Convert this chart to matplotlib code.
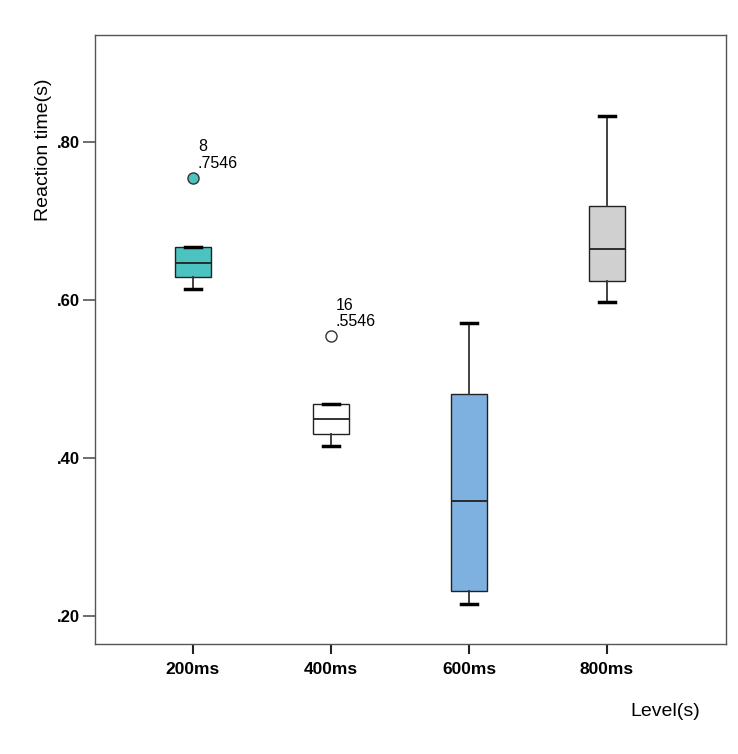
import numpy as np
import matplotlib.pyplot as plt
from matplotlib.ticker import FuncFormatter

plt.rcParams['font.family'] = ['Liberation Sans', 'DejaVu Sans']

levels = ['200ms', '400ms', '600ms', '800ms']
q1 = [0.629, 0.430, 0.232, 0.624]
med = [0.646, 0.449, 0.346, 0.664]
q3 = [0.667, 0.468, 0.481, 0.719]
whislo = [0.614, 0.415, 0.215, 0.597]
whishi = [0.667, 0.468, 0.571, 0.832]
outliers = [[0.7546], [0.5546], [], []]
outlier_ids = [['8'], ['16'], [], []]
box_colors = ['#4BC3C0', '#FFFFFF', '#7EB1E0', '#D0D0D0']

stats = []
for i in range(len(levels)):
    stats.append(dict(label=levels[i], q1=q1[i], med=med[i], q3=q3[i],
                      whislo=whislo[i], whishi=whishi[i], fliers=outliers[i]))

fig = plt.figure(figsize=(7.38, 7.54), dpi=100)
ax = fig.add_axes([95/738, 1-644/754, 631/738, 609/754])

pos = np.arange(1, len(levels) + 1)
bp = ax.bxp(stats, positions=pos, widths=0.26, capwidths=0.12, patch_artist=True,
            boxprops=dict(edgecolor='#222222', linewidth=1.0),
            medianprops=dict(color='#222222', linewidth=1.3),
            whiskerprops=dict(color='#333333', linewidth=1.3),
            capprops=dict(color='black', linewidth=2.5),
            flierprops=dict(marker='o', markersize=8, markeredgecolor='#333333',
                            markeredgewidth=1.0))

for patch, c in zip(bp['boxes'], box_colors):
    patch.set_facecolor(c)
for fl, c in zip(bp['fliers'], box_colors):
    fl.set_markerfacecolor(c)

# outlier case labels
for i in range(len(levels)):
    for v, lab in zip(outliers[i], outlier_ids[i]):
        ax.annotate(lab + '\n.' + ('%.4f' % v).split('.')[1], (pos[i], v),
                    xytext=(3.5, 5), textcoords='offset points',
                    ha='left', va='bottom', fontsize=11.5, linespacing=1.1)

ax.set_xlim(0.29, 4.862)
ax.set_ylim(0.1646, 0.935)
ax.set_yticks([0.2, 0.4, 0.6, 0.8])
ax.yaxis.set_major_formatter(FuncFormatter(lambda v, p: ('%.2f' % v)[1:]))
ax.set_xticks(pos)
ax.set_xticklabels(levels)

for sp in ax.spines.values():
    sp.set_color('#555555')
    sp.set_linewidth(1.0)

ax.tick_params(axis='y', direction='out', length=9, width=1.2, color='#555555',
               labelsize=12, pad=2)
ax.tick_params(axis='x', direction='out', length=7, width=1.5, color='#222222',
               labelsize=12.5, pad=6)
for t in ax.get_xticklabels() + ax.get_yticklabels():
    t.set_fontweight('bold')

fig.text(43/738, 1-150/754, 'Reaction time(s)', rotation=90, ha='center', va='center',
         fontsize=14)
fig.text(700/738, 1-711/754, 'Level(s)', ha='right', va='center', fontsize=14)

fig.savefig('out.png', dpi=100)
